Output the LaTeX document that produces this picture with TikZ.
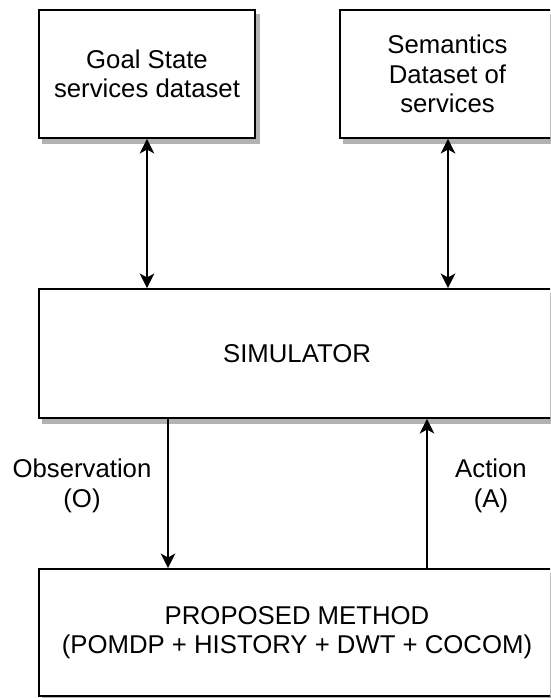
\documentclass[tikz,border=0pt]{standalone}
\usepackage{fontspec}
\setmainfont{Liberation Sans}
\usetikzlibrary{arrows.meta,backgrounds}
\tikzset{arw/.tip={Stealth[length=11pt,width=11pt,inset=3pt]}}
\begin{document}
\begin{tikzpicture}[x=0.75pt,y=-0.75pt,
  box/.style={draw=black, line width=1.3pt, fill=white, align=center, inner sep=0pt,
    font=\fontsize{19.3pt}{22.1pt}\selectfont},
  shade/.style={fill=black!30, draw=none},
  lbl/.style={align=center, inner sep=0pt, font=\fontsize{19.3pt}{22.1pt}\selectfont},
  conn/.style={line width=1.3pt, draw=black}]
\useasboundingbox (0,0) rectangle (550,698);
\clip (0,0) rectangle (550,698);
\node[box, minimum width=162pt, minimum height=96pt] (goal) at (147,74) {Goal State\\services dataset};
\node[box, minimum width=161.25pt, minimum height=96pt] (sem) at (447.5,74) {Semantics\\Dataset of\\services};
\node[box, minimum width=387pt, minimum height=96.75pt] (sim) at (297,353.5) {SIMULATOR};
\node[box, minimum width=387pt, minimum height=95.25pt] (prop) at (297,632.5) {PROPOSED METHOD\\(POMDP + HISTORY + DWT + COCOM)};
\begin{pgfonlayer}{background}
\fill[white] (0,0) rectangle (550,698);
\foreach \n in {goal,sem,sim,prop}
  \fill[shade] ([shift={(4,5)}]\n.north west) rectangle ([shift={(4,5)}]\n.south east);
\end{pgfonlayer}
\coordinate (obsx) at (168,0);
\coordinate (actx) at (427,0);
\coordinate (semx) at (448,0);
\draw[conn, arw-arw] (goal.south) -- (goal.south |- sim.north);
\draw[conn, arw-arw] (semx |- sem.south) -- (semx |- sim.north);
\draw[conn, -arw] (obsx |- sim.south) -- (obsx |- prop.north);
\draw[conn, -arw] (actx |- prop.north) -- (actx |- sim.south);
\node[lbl] (obs) at (82,486) {Observation\\(O)};
\node[lbl] (act) at (491,486) {Action\\(A)};
\end{tikzpicture}
\end{document}
